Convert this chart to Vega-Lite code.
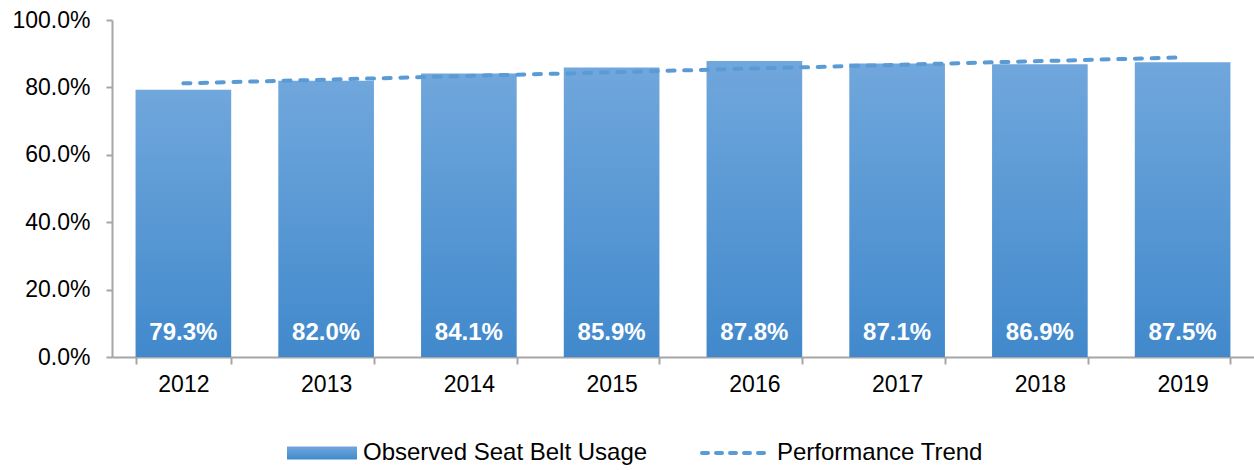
{
  "$schema": "https://vega.github.io/schema/vega-lite/v6.json",
  "width": 1142,
  "height": 337,
  "autosize": {"type": "none"},
  "padding": {"left": 112, "top": 20, "right": 0, "bottom": 113},
  "background": "white",
  "config": {
    "view": {"stroke": null},
    "font": "Liberation Sans",
    "axis": {
      "labelFont": "Liberation Sans",
      "labelFontSize": 23,
      "labelColor": "#000000",
      "domainColor": "#a6a6a6",
      "tickColor": "#a6a6a6",
      "domainWidth": 2,
      "tickWidth": 2,
      "grid": false
    },
    "legend": {"labelFont": "Liberation Sans", "labelFontSize": 24, "labelColor": "#000000", "padding": 0, "labelLimit": 0}
  },
  "data": {
    "values": [
      {"year": "2012", "usage": 0.793, "trend": 0.812},
      {"year": "2013", "usage": 0.820, "trend": 0.823},
      {"year": "2014", "usage": 0.841, "trend": 0.834},
      {"year": "2015", "usage": 0.859, "trend": 0.845},
      {"year": "2016", "usage": 0.878, "trend": 0.856},
      {"year": "2017", "usage": 0.871, "trend": 0.867},
      {"year": "2018", "usage": 0.869, "trend": 0.878},
      {"year": "2019", "usage": 0.875, "trend": 0.889}
    ]
  },
  "layer": [
    {
      "mark": {
        "type": "bar",
        "fill": {
          "gradient": "linear",
          "x1": 0, "y1": 0, "x2": 0, "y2": 1,
          "stops": [
            {"offset": 0, "color": "#70a7dc"},
            {"offset": 1, "color": "#4189cc"}
          ]
        }
      },
      "encoding": {
        "x": {
          "field": "year",
          "type": "ordinal",
          "scale": {"paddingInner": 0.33, "paddingOuter": 0.165},
          "axis": {
            "title": null,
            "labelAngle": 0,
            "tickBand": "extent",
            "tickSize": 7,
            "labelPadding": 9,
            "encode": {"ticks": {"update": {"y": {"value": -7}}}}
          }
        },
        "y": {
          "field": "usage",
          "type": "quantitative",
          "scale": {"domain": [0, 1]},
          "axis": {
            "title": null,
            "format": ".1%",
            "values": [0, 0.2, 0.4, 0.6, 0.8, 1],
            "tickSize": 6,
            "labelPadding": 16,
            "encode": {"ticks": {"update": {"x": {"value": 6}}}}
          }
        },
        "opacity": {
          "datum": "Observed Seat Belt Usage",
          "type": "nominal",
          "scale": {"range": [1]},
          "legend": {
            "title": null,
            "orient": "none",
            "legendX": 175,
            "legendY": 398,
            "symbolType": "M-1,-0.186H1V0.186H-1Z",
            "symbolSize": 4900,
            "symbolStrokeWidth": 0,
            "labelOffset": 6,
            "labelLimit": 0,
            "encode": {
              "symbols": {
                "update": {
                  "fill": {
                    "value": {
                      "gradient": "linear",
                      "x1": 0, "y1": 0, "x2": 0, "y2": 1,
                      "stops": [
                        {"offset": 0, "color": "#70a7dc"},
                        {"offset": 1, "color": "#4189cc"}
                      ]
                    }
                  },
                  "opacity": {"value": 1}
                }
              }
            }
          }
        }
      }
    },
    {
      "mark": {"type": "text", "color": "white", "fontWeight": "bold", "fontSize": 24, "font": "Liberation Sans", "baseline": "middle", "dy": -24},
      "encoding": {
        "x": {"field": "year", "type": "ordinal"},
        "y": {"datum": 0},
        "text": {"field": "usage", "type": "quantitative", "format": ".1%"}
      }
    },
    {
      "mark": {"type": "line", "strokeWidth": 4, "strokeDash": [7, 9.7], "strokeCap": "round"},
      "encoding": {
        "x": {"field": "year", "type": "ordinal"},
        "y": {"field": "trend", "type": "quantitative"},
        "stroke": {
          "datum": "Performance Trend",
          "scale": {"range": ["#5b9bd5"]},
          "legend": {
            "title": null,
            "orient": "none",
            "legendX": 588,
            "legendY": 396,
            "symbolType": "stroke",
            "symbolSize": 4900,
            "symbolDash": [6, 8],
            "symbolStrokeWidth": 4,
            "labelOffset": 3,
            "labelLimit": 0,
            "encode": {"symbols": {"update": {"strokeCap": {"value": "round"}}}}
          }
        }
      }
    }
  ]
}
